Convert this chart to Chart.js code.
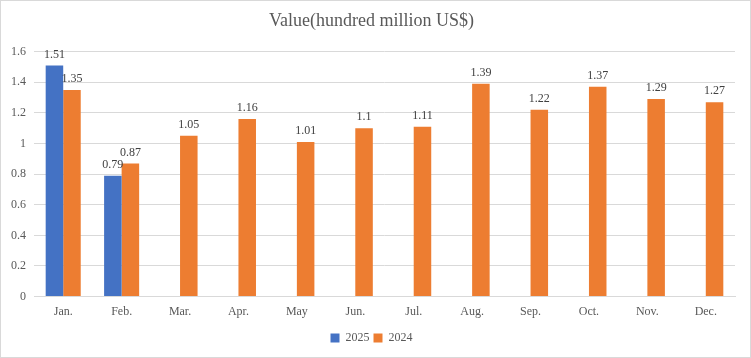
<!DOCTYPE html>
<html><head><meta charset="utf-8">
<script src="https://cdn.jsdelivr.net/npm/chart.js@4"></script>
<style>html,body{margin:0;padding:0;background:#fff}canvas{display:block}</style>
</head><body>
<canvas id="c" width="751" height="358"></canvas>
<script>
const categories = ["Jan.","Feb.","Mar.","Apr.","May","Jun.","Jul.","Aug.","Sep.","Oct.","Nov.","Dec."];
const series2025 = [1.51,0.79,null,null,null,null,null,null,null,null,null,null];
const series2024 = [1.35,0.87,1.05,1.16,1.01,1.1,1.11,1.39,1.22,1.37,1.29,1.27];
const yTicks = [0,0.2,0.4,0.6,0.8,1,1.2,1.4,1.6];
const titleText = "Value(hundred million US$)";

const FONT = "'Liberation Serif','Times New Roman',serif";

const borderPlugin = {
  id:'border',
  beforeDraw(chart){
    const c = chart.ctx;
    c.save();
    c.fillStyle='#fff';
    c.fillRect(0,0,chart.width,chart.height);
    c.strokeStyle='#d9d9d9';
    c.lineWidth=1;
    c.strokeRect(0.5,0.5,chart.width-1,chart.height-1);
    c.restore();
  }
};
const labelPlugin = {
  id:'vlabels',
  afterDatasetsDraw(chart){
    const c = chart.ctx;
    c.save();
    c.font = "12px " + FONT;
    c.fillStyle = '#404040';
    c.textAlign = 'center';
    c.textBaseline = 'bottom';
    chart.data.datasets.forEach((ds,i)=>{
      const meta = chart.getDatasetMeta(i);
      meta.data.forEach((bar,j)=>{
        const v = ds.data[j];
        if (v===null || v===undefined) return;
        c.fillText(String(v), bar.x, bar.y - 5);
      });
    });
    c.restore();
  }
};

new Chart(document.getElementById('c'), {
  type:'bar',
  data:{
    labels: categories,
    datasets:[
      {label:'2025', data: series2025, backgroundColor:'#4472C4'},
      {label:'2024', data: series2024, backgroundColor:'#ED7D31'}
    ]
  },
  options:{
    responsive:false,
    animation:false,
    devicePixelRatio:1,
    layout:{padding:{left:8,right:16,top:0,bottom:4}},
    datasets:{bar:{categoryPercentage:0.6,barPercentage:1}},
    plugins:{
      title:{display:true,text:titleText,color:'#595959',font:{family:FONT,size:18,weight:'normal'},padding:{top:10,bottom:20}},
      legend:{position:'bottom',labels:{color:'#595959',font:{family:FONT,size:12},boxWidth:9,boxHeight:9,padding:4}},
      tooltip:{enabled:false}
    },
    scales:{
      x:{
        grid:{display:false,drawTicks:false},
        border:{display:true,color:'#d9d9d9',width:1},
        ticks:{color:'#595959',font:{family:FONT,size:12},padding:8.5,maxRotation:0}
      },
      y:{
        min:0,max:1.6,
        afterBuildTicks(s){ s.ticks = yTicks.map(v=>({value:v})); },
        afterFit(s){ s.width = 26; },
        grid:{color:'#d9d9d9',drawTicks:false},
        border:{display:false},
        ticks:{color:'#595959',font:{family:FONT,size:12},padding:8,callback:v=>String(v)}
      }
    }
  },
  plugins:[borderPlugin,labelPlugin]
});
</script>
</body></html>
